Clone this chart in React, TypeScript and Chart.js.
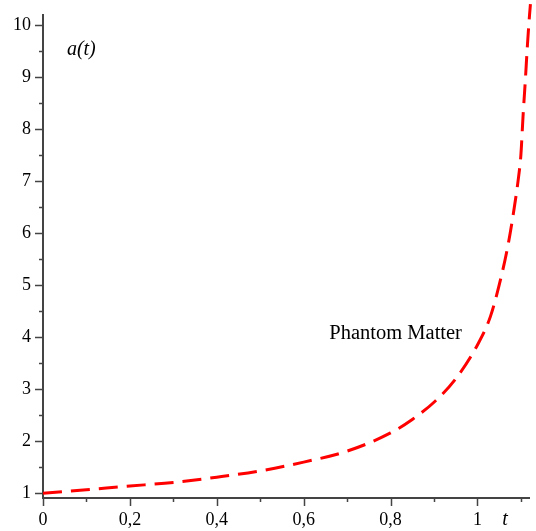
import React, { useEffect, useRef } from "react";
import { Chart, registerables } from "chart.js";

Chart.register(...registerables);

// Data
const tValues = [0, 0.1, 0.2, 0.3, 0.4, 0.5, 0.6, 0.7, 0.8, 0.85, 0.9, 0.95, 1.0, 1.03, 1.05, 1.07, 1.085, 1.095, 1.1, 1.105, 1.11, 1.115, 1.12, 1.122];
const aValues = [1.0, 1.07, 1.14, 1.21, 1.31, 1.43, 1.6, 1.81, 2.16, 2.42, 2.75, 3.2, 3.85, 4.4, 5.0, 5.75, 6.5, 7.1, 7.5, 8.25, 8.9, 9.6, 10.2, 10.4];

const xMajorTicks = [0, 0.2, 0.4, 0.6, 0.8, 1];
const xMinorTicks = [0.1, 0.3, 0.5, 0.7, 0.9, 1.1];
const yMajorTicks = [1, 2, 3, 4, 5, 6, 7, 8, 9, 10];
const yMinorTicks = [1.5, 2.5, 3.5, 4.5, 5.5, 6.5, 7.5, 8.5, 9.5];

const seriesLabel = "Phantom Matter";
const yAxisTitle = "a(t)";
const xAxisTitle = "t";

const FONT = "'Liberation Serif', 'Times New Roman', serif";
const AXIS_COLOR = "#444444";

export default function App() {
  const canvasRef = useRef<HTMLCanvasElement | null>(null);

  useEffect(() => {
    const canvas = canvasRef.current;
    if (!canvas) return;

    const axesPlugin = {
      id: "mapleAxes",
      beforeDatasetsDraw(chart: any) {
        const ctx = chart.ctx;
        const xs = chart.scales.x;
        const ys = chart.scales.y;
        const area = chart.chartArea;
        const x0 = area.left;
        const y0 = area.bottom;
        ctx.save();
        ctx.strokeStyle = AXIS_COLOR;
        ctx.lineWidth = 2;
        ctx.beginPath();
        ctx.moveTo(x0, area.top);
        ctx.lineTo(x0, y0);
        ctx.lineTo(area.right, y0);
        ctx.stroke();
        ctx.lineWidth = 1.5;
        ctx.beginPath();
        yMajorTicks.forEach((v) => {
          const p = Math.round(ys.getPixelForValue(v)) + 0.5;
          ctx.moveTo(x0 - 8, p);
          ctx.lineTo(x0, p);
        });
        yMinorTicks.forEach((v) => {
          const p = Math.round(ys.getPixelForValue(v)) + 0.5;
          ctx.moveTo(x0 - 4, p);
          ctx.lineTo(x0, p);
        });
        xMajorTicks.forEach((v) => {
          const p = Math.round(xs.getPixelForValue(v)) + 0.5;
          ctx.moveTo(p, y0);
          ctx.lineTo(p, y0 + 8);
        });
        xMinorTicks.forEach((v) => {
          const p = Math.round(xs.getPixelForValue(v)) + 0.5;
          ctx.moveTo(p, y0);
          ctx.lineTo(p, y0 + 4);
        });
        ctx.stroke();
        ctx.restore();
      },
      afterDraw(chart: any) {
        const ctx = chart.ctx;
        const xs = chart.scales.x;
        const ys = chart.scales.y;
        const area = chart.chartArea;
        ctx.save();
        ctx.fillStyle = "#000000";
        ctx.textBaseline = "alphabetic";
        ctx.textAlign = "left";
        ctx.font = `italic 20px ${FONT}`;
        ctx.fillText(yAxisTitle, xs.getPixelForValue(0.055), ys.getPixelForValue(9.43));
        ctx.fillText(xAxisTitle, xs.getPixelForValue(1.057), area.bottom + 27);
        ctx.font = `20.5px ${FONT}`;
        ctx.fillText(seriesLabel, xs.getPixelForValue(0.659), ys.getPixelForValue(3.96));
        ctx.restore();
      },
    };

    const chart = new Chart(canvas, {
      type: "line",
      data: {
        datasets: [
          {
            label: seriesLabel,
            data: tValues.map((t, i) => ({ x: t, y: aValues[i] })),
            borderColor: "#ff0000",
            borderWidth: 3,
            borderDash: [19, 9],
            borderCapStyle: "butt",
            pointRadius: 0,
            fill: false,
            cubicInterpolationMode: "monotone",
            clip: false as any,
          },
        ],
      },
      options: {
        animation: false,
        responsive: false,
        maintainAspectRatio: false,
        layout: { padding: { top: 14, right: 6, left: 0, bottom: 0 } },
        plugins: {
          legend: { display: false },
          tooltip: { enabled: false },
        },
        scales: {
          x: {
            type: "linear",
            min: 0,
            max: 1.121,
            grid: { display: false, drawTicks: false },
            border: { display: false },
            afterBuildTicks: (scale: any) => {
              scale.ticks = xMajorTicks.map((v) => ({ value: v }));
            },
            afterFit: (scale: any) => {
              scale.height = 33;
              scale.paddingLeft = 0;
              scale.paddingRight = 0;
            },
            ticks: {
              autoSkip: false,
              maxRotation: 0,
              padding: 11,
              color: "#000000",
              font: { family: FONT, size: 18 },
              callback: (v: any) => String(Number(v)).replace(".", ","),
            },
          },
          y: {
            type: "linear",
            min: 0.91,
            max: 10.21,
            grid: { display: false, drawTicks: false },
            border: { display: false },
            afterBuildTicks: (scale: any) => {
              scale.ticks = yMajorTicks.map((v) => ({ value: v }));
            },
            afterFit: (scale: any) => {
              scale.width = 43;
              scale.paddingTop = 0;
              scale.paddingBottom = 0;
            },
            ticks: {
              autoSkip: false,
              padding: 12,
              color: "#000000",
              font: { family: FONT, size: 18 },
              callback: (v: any) => String(Number(v)),
            },
          },
        },
      },
      plugins: [axesPlugin],
    });

    return () => chart.destroy();
  }, []);

  return (
    <div style={{ position: "absolute", left: 0, top: 0, width: 536, height: 531, background: "#ffffff" }}>
      <canvas ref={canvasRef} width={536} height={531} style={{ display: "block", width: 536, height: 531 }} />
    </div>
  );
}
